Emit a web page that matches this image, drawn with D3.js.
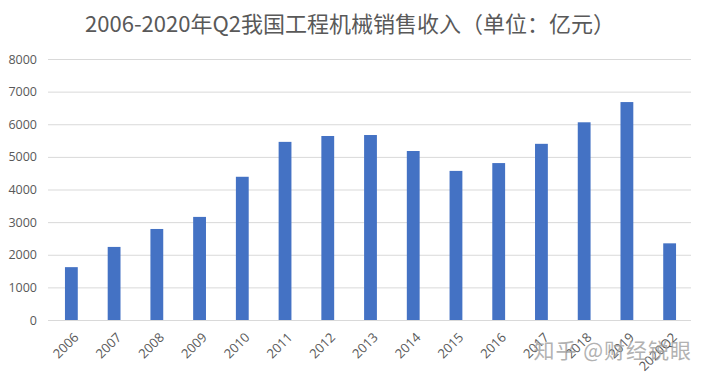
<!DOCTYPE html>
<html>
<head>
<meta charset="utf-8">
<script src="https://cdn.jsdelivr.net/npm/d3@7"></script>
<style>
  body { margin: 0; background: #fff; }
  svg { display: block; font-family: "Noto Sans CJK SC", "Open Sans", sans-serif; }
</style>
</head>
<body>
<svg id="chart" width="703" height="379"></svg>
<script>
const categories = ["2006", "2007", "2008", "2009", "2010", "2011", "2012", "2013",
  "2014", "2015", "2016", "2017", "2018", "2019", "2020Q2"];
const sales = [1620, 2240, 2790, 3160, 4390, 5460, 5640, 5670,
  5180, 4570, 4810, 5400, 6060, 6680, 2350];
const yTicks = [0, 1000, 2000, 3000, 4000, 5000, 6000, 7000, 8000];
const titleText = "2006-2020年Q2我国工程机械销售收入（单位：亿元）";
const watermark = "知乎 @财经锐眼";

const svg = d3.select("#chart");
const width = 703;
const height = 379;
const margin = { top: 59, right: 12, bottom: 59, left: 50 };

const x = d3.scaleBand()
  .domain(categories)
  .range([margin.left, width - margin.right])
  .paddingInner(0.7)
  .paddingOuter(0.35);

const y = d3.scaleLinear()
  .domain([0, 8000])
  .range([height - margin.bottom, margin.top]);

// gridlines
svg.append("g")
  .selectAll("line")
  .data(yTicks)
  .join("line")
  .attr("x1", 48)
  .attr("x2", width - margin.right)
  .attr("y1", d => y(d) + 0.5)
  .attr("y2", d => y(d) + 0.5)
  .attr("stroke", "#d9d9d9")
  .attr("stroke-width", 1);

// y axis labels
const yAxis = d3.axisLeft(y).tickValues(yTicks).tickFormat(d3.format("d")).tickSize(0).tickPadding(13);
svg.append("g")
  .attr("transform", `translate(${margin.left},0)`)
  .call(yAxis)
  .call(g => g.select(".domain").remove())
  .call(g => g.selectAll("text")
    .attr("fill", "#595959")
    .style("font-size", "12.5px")
    .style("font-family", "'Open Sans', sans-serif"));

// bars
svg.append("g")
  .selectAll("rect")
  .data(sales)
  .join("rect")
  .attr("x", (d, i) => x(categories[i]))
  .attr("width", x.bandwidth())
  .attr("y", d => y(d))
  .attr("height", d => y(0) - y(d))
  .attr("fill", "#4472c4");

// x axis labels, rotated
const xAxis = d3.axisBottom(x).tickSize(0);
svg.append("g")
  .attr("transform", `translate(0,${y(0)})`)
  .call(xAxis)
  .call(g => g.select(".domain").remove())
  .call(g => g.selectAll("text")
    .attr("fill", "#595959")
    .style("font-size", "13px")
    .style("font-family", "'Open Sans', sans-serif")
    .attr("text-anchor", "end")
    .attr("x", 0)
    .attr("y", 0)
    .attr("dy", "0.35em")
    .attr("transform", "translate(5,15) rotate(-45)"));

// title
svg.append("text")
  .attr("x", 350)
  .attr("y", 32)
  .attr("text-anchor", "middle")
  .attr("fill", "#595959")
  .style("font-size", "22px")
  .text(titleText);

// watermark
svg.append("text")
  .attr("x", 692)
  .attr("y", 358)
  .attr("text-anchor", "end")
  .attr("fill", "#a0a0a0")
  .attr("opacity", 0.8)
  .style("font-size", "21px")
  .style("letter-spacing", "1px")
  .text(watermark);
</script>
</body>
</html>
